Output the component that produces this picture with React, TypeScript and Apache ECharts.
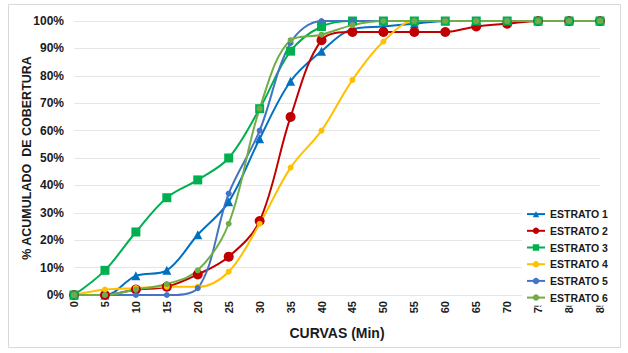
import React, { useEffect, useRef } from "react";
import * as echarts from "echarts";

const minutes = [0, 5, 10, 15, 20, 25, 30, 35, 40, 45, 50, 55, 60, 65, 70, 75, 80, 85];
const estrato1 = [0, 0, 7, 9, 22, 34, 57, 78, 89, 97, 98, 99, 100, 100, 100, 100, 100, 100];
const estrato2 = [0, 0, 2, 3, 7.5, 14, 27, 65, 93, 96, 96, 96, 96, 98, 99, 100, 100, 100];
const estrato3 = [0, 9, 23, 35.5, 42, 50, 68, 89, 98, 100, 100, 100, 100, 100, 100, 100, 100, 100];
const estrato4 = [0, 2, 2.5, 3, 3, 8.5, 26, 46.5, 60, 78.5, 92.5, 100, 100, 100, 100, 100, 100, 100];
const estrato5 = [0, 0, 0, 0, 2.5, 37, 60, 92, 100, 100, 100, 100, 100, 100, 100, 100, 100, 100];
const estrato6 = [0, 0, 2, 4, 9, 26, 68, 93, 95, 98.5, 100, 100, 100, 100, 100, 100, 100, 100];
const yTicks = [0, 10, 20, 30, 40, 50, 60, 70, 80, 90, 100];

const FONT = "'Liberation Sans', Arial, sans-serif";
const TXT = "#1a1a1a";

export default function App() {
  const ref = useRef<HTMLDivElement>(null);
  useEffect(() => {
    const chart = echarts.init(ref.current!, undefined, { renderer: "svg" });
    const mk = (name: string, vals: number[], color: string, symbol: string, size: number) => ({
      name,
      type: "line",
      data: minutes.map((m, i) => [m, vals[i]]),
      smooth: 0.35,
      symbol,
      symbolSize: size,
      lineStyle: { color, width: 2 },
      itemStyle: { color },
    });
    chart.setOption({
      animation: false,
      graphic: [
        {
          type: "rect",
          z: -10,
          shape: { x: 8.5, y: 4.5, width: 612, height: 343 },
          style: { fill: "#fff", stroke: "#d9d9d9", lineWidth: 1 },
        },
      ],
      grid: { left: 74, right: 28, top: 21, bottom: 58 },
      xAxis: {
        type: "value",
        min: 0,
        max: 85,
        interval: 5,
        name: "CURVAS (Min)",
        nameLocation: "middle",
        nameGap: 31,
        nameMoveOverlap: false,
        nameTextStyle: { fontFamily: FONT, fontWeight: "bold", fontSize: 14, color: TXT },
        axisLine: { show: false },
        axisTick: { show: false },
        splitLine: { show: false },
        axisLabel: {
          rotate: 90,
          fontFamily: FONT,
          fontWeight: "bold",
          fontSize: 11,
          color: TXT,
          margin: 6,
        },
      },
      yAxis: {
        type: "value",
        min: yTicks[0],
        max: yTicks[yTicks.length - 1],
        interval: 10,
        name: "% ACUMULADO  DE COBERTURA",
        nameLocation: "middle",
        nameGap: 41,
        nameMoveOverlap: false,
        nameTextStyle: { fontFamily: FONT, fontWeight: "bold", fontSize: 12.5, color: TXT },
        axisLine: { show: false },
        axisTick: { show: false },
        splitLine: { lineStyle: { color: "#e6e6e6", width: 1 } },
        axisLabel: {
          formatter: "{value}%",
          fontFamily: FONT,
          fontWeight: "bold",
          fontSize: 12,
          color: TXT,
          margin: 10,
        },
      },
      legend: {
        orient: "vertical",
        left: 522,
        top: 206,
        padding: [2, 4, 2, 4],
        backgroundColor: "#fff",
        itemWidth: 18,
        itemHeight: 8,
        itemGap: 4.5,
        textStyle: { fontFamily: FONT, fontWeight: "bold", fontSize: 10.5, color: TXT, lineHeight: 12.2 },
        data: ["ESTRATO 1", "ESTRATO 2", "ESTRATO 3", "ESTRATO 4", "ESTRATO 5", "ESTRATO 6"],
      },
      series: [
        mk("ESTRATO 1", estrato1, "#0070C0", "triangle", 9),
        mk("ESTRATO 2", estrato2, "#C00000", "circle", 10),
        mk("ESTRATO 3", estrato3, "#00B050", "rect", 9),
        mk("ESTRATO 4", estrato4, "#FFC000", "circle", 6),
        mk("ESTRATO 5", estrato5, "#4472C4", "circle", 6),
        mk("ESTRATO 6", estrato6, "#70AD47", "circle", 6),
      ],
    });
    return () => chart.dispose();
  }, []);
  return <div ref={ref} style={{ position: "absolute", left: 0, top: 0, width: 628, height: 353 }} />;
}
